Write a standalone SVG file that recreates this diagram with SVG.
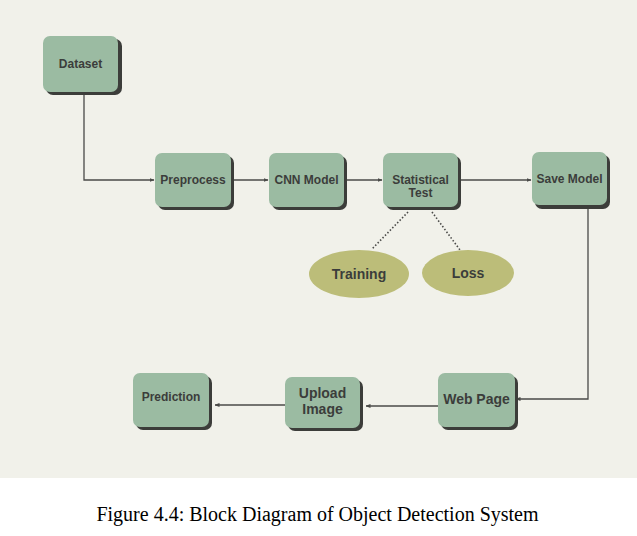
<svg xmlns="http://www.w3.org/2000/svg" width="637" height="536" viewBox="0 0 637 536">
<defs>
<marker id="ah" viewBox="0 0 10 10" refX="9" refY="5" markerWidth="5" markerHeight="5" orient="auto" markerUnits="userSpaceOnUse">
<path d="M0,1 L10,5 L0,9 z" fill="#4a4a48"/>
</marker>
<style>
.sh{fill:#3c3d3a}
.bx{fill:#9bbba2}
.el{fill:#bcbd79}
.t{font-family:"Liberation Sans",Arial,sans-serif;font-weight:bold;font-size:12px;fill:#3b3d3b;text-anchor:middle}
.te{font-family:"Liberation Sans",Arial,sans-serif;font-weight:bold;font-size:14px;fill:#3b3d3b;text-anchor:middle}
.c{stroke:#4a4a48;stroke-width:1.3;fill:none}
.d{stroke:#4a4a48;stroke-width:1.6;fill:none;stroke-dasharray:1.5 2}
.cap{font-family:"Liberation Serif","Times New Roman",serif;font-size:20px;fill:#000;text-anchor:middle}
</style>
</defs>
<rect x="0" y="0" width="637" height="536" fill="#ffffff"/>
<rect x="0" y="0" width="637" height="478" fill="#f1f1ea"/>
<g id="connectors">
<polyline class="c" points="84,92 84,180 154,180" marker-end="url(#ah)"/>
<line class="c" x1="234" y1="180" x2="268" y2="180" marker-end="url(#ah)"/>
<line class="c" x1="347" y1="180" x2="382" y2="180" marker-end="url(#ah)"/>
<line class="c" x1="461" y1="180" x2="531" y2="180" marker-end="url(#ah)"/>
<polyline class="c" points="588,208 588,399 516,399" marker-end="url(#ah)"/>
<line class="c" x1="438" y1="406" x2="366" y2="406" marker-end="url(#ah)"/>
<line class="c" x1="285" y1="405" x2="215" y2="405" marker-end="url(#ah)"/>
<line class="d" x1="408" y1="212" x2="372" y2="249"/>
<line class="d" x1="432" y1="212" x2="460" y2="250"/>
</g>
<g id="dataset">
<rect class="sh" x="46" y="39" width="76" height="56" rx="7"/>
<rect class="bx" x="43" y="36" width="75" height="56" rx="7"/>
<text class="t" x="80.5" y="68">Dataset</text>
</g>
<g id="preprocess">
<rect class="sh" x="158" y="156" width="76" height="54" rx="7"/>
<rect class="bx" x="155" y="153" width="76" height="54" rx="7"/>
<text class="t" x="193" y="184">Preprocess</text>
</g>
<g id="cnn">
<rect class="sh" x="272" y="156" width="75" height="54" rx="7"/>
<rect class="bx" x="269" y="153" width="75" height="54" rx="7"/>
<text class="t" x="306.5" y="184">CNN Model</text>
</g>
<g id="stat">
<rect class="sh" x="386" y="156" width="75" height="54" rx="7"/>
<rect class="bx" x="383" y="153" width="75" height="54" rx="7"/>
<text class="t" x="420.5" y="184">Statistical</text>
<text class="t" x="420.5" y="197">Test</text>
</g>
<g id="save">
<rect class="sh" x="535" y="155" width="75" height="54" rx="7"/>
<rect class="bx" x="532" y="152" width="75" height="53" rx="7"/>
<text class="t" x="569.5" y="183">Save Model</text>
</g>
<g id="training">
<ellipse class="el" cx="359" cy="274" rx="50" ry="24"/>
<text class="te" x="359" y="279">Training</text>
</g>
<g id="loss">
<ellipse class="el" cx="468" cy="273" rx="46" ry="23"/>
<text class="te" x="468" y="278">Loss</text>
</g>
<g id="webpage">
<rect class="sh" x="441" y="376" width="77" height="54" rx="7"/>
<rect class="bx" x="438" y="373" width="77" height="54" rx="7"/>
<text class="te" x="476.5" y="404">Web Page</text>
</g>
<g id="upload">
<rect class="sh" x="288" y="380" width="75" height="51" rx="7"/>
<rect class="bx" x="285" y="377" width="75" height="51" rx="7"/>
<text class="te" x="322.5" y="398">Upload</text>
<text class="te" x="322.5" y="414">Image</text>
</g>
<g id="prediction">
<rect class="sh" x="136" y="376" width="76" height="54" rx="7"/>
<rect class="bx" x="133" y="373" width="76" height="54" rx="7"/>
<text class="t" x="171" y="401">Prediction</text>
</g>
<text class="cap" x="317.5" y="521">Figure 4.4: Block Diagram of Object Detection System</text>
</svg>
